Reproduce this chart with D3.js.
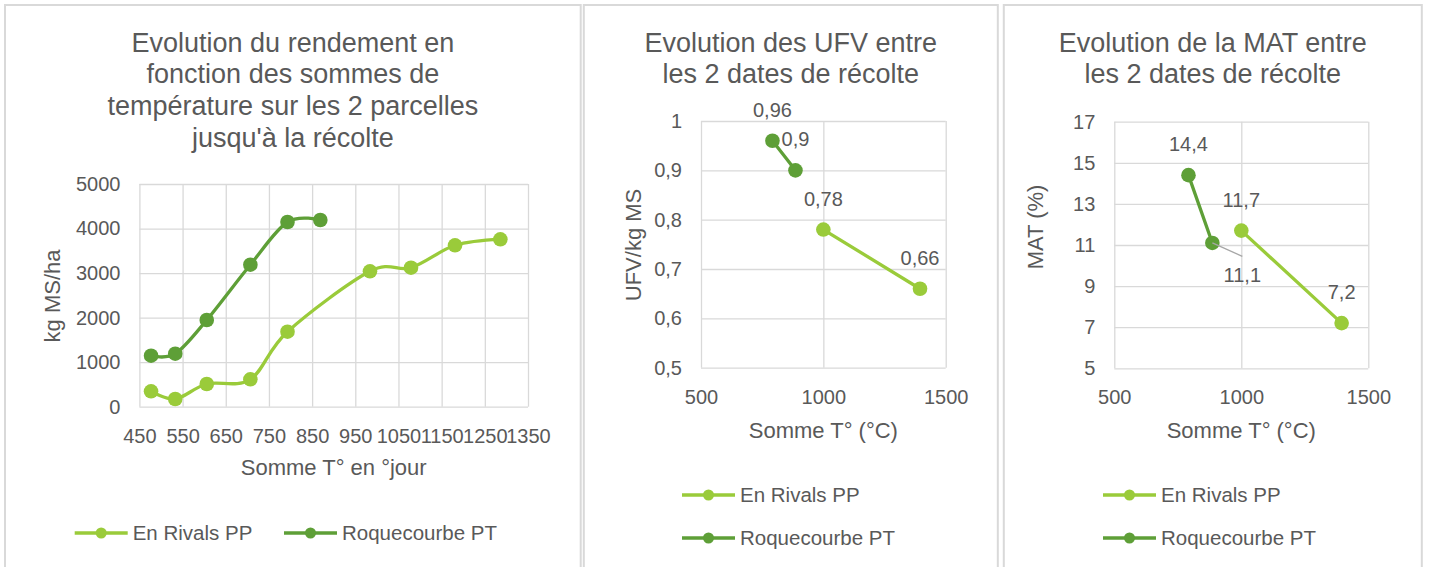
<!DOCTYPE html>
<html>
<head>
<meta charset="utf-8">
<title>Rendement, UFV et MAT</title>
<script src="https://d3js.org/d3.v7.min.js"></script>
<style>
  body { margin: 0; background: #fff; }
  svg { display: block; font-family: "Liberation Sans", Arial, sans-serif; }
  .grid line { stroke: #d9d9d9; stroke-width: 1.3; }
  .grid text { fill: #595959; font-size: 20px; }
  .lbl { fill: #595959; }
</style>
</head>
<body>
<svg width="1429" height="567"></svg>
<script>
// series
var seriesNames = ["En Rivals PP", "Roquecourbe PT"];
var colors = ["#9acb3a", "#5e9f37"];

// chart 1 : rendement vs somme de températures
var cumulT_rivals = [477, 533, 606, 707, 793, 984, 1079, 1181, 1286];
var rendement_rivals = [346, 173, 510, 615, 1684, 3040, 3121, 3624, 3758];
var cumulT_roque = [477, 533, 606, 707, 793, 869];
var rendement_roque = [1145, 1190, 1947, 3188, 4147, 4192];
var rendXTicks = [450, 550, 650, 750, 850, 950, 1050, 1150, 1250, 1350];
var rendYTicks = [0, 1000, 2000, 3000, 4000, 5000];

// charts 2 and 3 : the 2 harvest dates
var recolteT_rivals = [1000, 1395];
var recolteT_roque = [792, 886];
var ufv_rivals = [0.78, 0.66];
var ufv_roque = [0.96, 0.9];
var mat_rivals = [11.7, 7.2];
var mat_roque = [14.4, 11.1];
var tempTicks = [500, 1000, 1500];
var ufvTicks = [0.5, 0.6, 0.7, 0.8, 0.9, 1];
var matTicks = [5, 7, 9, 11, 13, 15, 17];

var fr = d3.formatLocale({decimal: ",", thousands: "", grouping: [3], currency: ["", " €"]});
var fmtDec = fr.format(".2~f");

var svg = d3.select("svg");

// panel frames
[[5, 580.7], [583.8, 997.8], [1003.8, 1421.8]].forEach(function(p) {
  svg.append("rect")
      .attr("x", p[0]).attr("y", 5)
      .attr("width", p[1] - p[0]).attr("height", 600)
      .attr("fill", "none")
      .attr("stroke", "#d9d9d9")
      .attr("stroke-width", 2);
});

function zip(xs, ys) {
  return xs.map(function(v, i) { return [v, ys[i]]; });
}

function drawChart(c) {
  var x = d3.scaleLinear().domain(c.xDomain).range([c.left, c.right]);
  var y = d3.scaleLinear().domain(c.yDomain).range([c.bottom, c.top]);
  var w = c.right - c.left, h = c.bottom - c.top;

  // title
  var t = svg.append("text").attr("class", "lbl")
      .attr("text-anchor", "middle")
      .style("font-size", "27px");
  c.title.forEach(function(line, i) {
    t.append("tspan").attr("x", c.titleX).attr("y", 51.7 + i * 31.7).text(line);
  });

  // axes + gridlines
  var gx = svg.append("g").attr("class", "grid")
      .attr("transform", "translate(0," + c.bottom + ")")
      .call(d3.axisBottom(x).tickValues(c.xTicks).tickSize(-h).tickPadding(22).tickFormat(d3.format("d")));
  gx.select(".domain").remove();
  var gy = svg.append("g").attr("class", "grid")
      .attr("transform", "translate(" + c.left + ",0)")
      .call(d3.axisLeft(y).tickValues(c.yTicks).tickSize(-w).tickPadding(19).tickFormat(c.yFmt));
  gy.select(".domain").remove();
  svg.selectAll(".grid text").style("font-family", null);

  // axis titles
  svg.append("text").attr("class", "lbl")
      .attr("x", (c.left + c.right) / 2).attr("y", c.xTitleY)
      .attr("text-anchor", "middle").style("font-size", "22px")
      .text(c.xTitle);
  svg.append("text").attr("class", "lbl")
      .attr("transform", "translate(" + c.yTitleX + "," + c.yTitleY + ") rotate(-90)")
      .attr("text-anchor", "middle").attr("dy", "0.35em").style("font-size", "22px")
      .text(c.yTitle);

  var line = d3.line()
      .x(function(d) { return x(d[0]); })
      .y(function(d) { return y(d[1]); })
      .curve(c.curve);

  c.series.forEach(function(s, si) {
    var g = svg.append("g");
    g.append("path")
        .attr("d", line(s.points))
        .attr("fill", "none")
        .attr("stroke", colors[si])
        .attr("stroke-width", 3.3)
        .attr("stroke-linecap", "round");
    g.selectAll("circle")
      .data(s.points)
      .enter().append("circle")
        .attr("cx", function(d) { return x(d[0]); })
        .attr("cy", function(d) { return y(d[1]); })
        .attr("r", 7.3)
        .attr("fill", colors[si]);
    if (s.labels) {
      s.points.forEach(function(d, i) {
        var px = x(d[0]), py = y(d[1]);
        var off = s.labelOffsets ? s.labelOffsets[i] : null;
        if (off) {
          // label moved away from its point, with a leader line
          svg.append("line")
              .attr("x1", px).attr("y1", py)
              .attr("x2", px + off[0]).attr("y2", py + off[1] - 26)
              .attr("stroke", "#a6a6a6").attr("stroke-width", 1.3);
          svg.append("text").attr("class", "lbl")
              .attr("x", px + off[0]).attr("y", py + off[1])
              .attr("text-anchor", "middle").style("font-size", "20px")
              .text(fmtDec(d[1]));
        } else {
          svg.append("text").attr("class", "lbl")
              .attr("x", px).attr("y", py - 24)
              .attr("text-anchor", "middle").style("font-size", "20px")
              .text(fmtDec(d[1]));
        }
      });
    }
  });

  // legend
  c.legend.forEach(function(pos, si) {
    var g = svg.append("g").attr("transform", "translate(" + pos[0] + "," + pos[1] + ")");
    g.append("line").attr("x1", 0).attr("x2", 53)
        .attr("stroke", colors[si]).attr("stroke-width", 3.3);
    g.append("circle").attr("cx", 26.5).attr("r", 5.5).attr("fill", colors[si]);
    g.append("text").attr("class", "lbl")
        .attr("x", 58).attr("dy", "0.35em").style("font-size", "20.5px")
        .text(seriesNames[si]);
  });
}

drawChart({
  left: 139.4, right: 528, top: 184, bottom: 406.7,
  xDomain: [450, 1350], yDomain: [0, 5000],
  xTicks: rendXTicks, yTicks: rendYTicks, yFmt: d3.format("d"),
  title: ["Evolution du rendement en", "fonction des sommes de", "température sur les 2 parcelles", "jusqu'à la récolte"],
  titleX: 292.9,
  xTitle: "Somme T° en °jour", xTitleY: 475,
  yTitle: "kg MS/ha", yTitleX: 52.4, yTitleY: 296,
  curve: d3.curveCardinal.tension(0),
  series: [
    {points: zip(cumulT_rivals, rendement_rivals)},
    {points: zip(cumulT_roque, rendement_roque)}
  ],
  legend: [[74.7, 533], [284, 533]]
});

drawChart({
  left: 701, right: 945.7, top: 121, bottom: 367.7,
  xDomain: [500, 1500], yDomain: [0.5, 1],
  xTicks: tempTicks, yTicks: ufvTicks, yFmt: fmtDec,
  title: ["Evolution des UFV entre", "les 2 dates de récolte"],
  titleX: 790.8,
  xTitle: "Somme T° (°C)", xTitleY: 438,
  yTitle: "UFV/kg MS", yTitleX: 633, yTitleY: 245,
  curve: d3.curveLinear,
  series: [
    {points: zip(recolteT_rivals, ufv_rivals), labels: true},
    {points: zip(recolteT_roque, ufv_roque), labels: true}
  ],
  legend: [[682, 495], [682, 538]]
});

drawChart({
  left: 1114.3, right: 1368.3, top: 121.7, bottom: 368.3,
  xDomain: [500, 1500], yDomain: [5, 17],
  xTicks: tempTicks, yTicks: matTicks, yFmt: fmtDec,
  title: ["Evolution de la MAT entre", "les 2 dates de récolte"],
  titleX: 1212.8,
  xTitle: "Somme T° (°C)", xTitleY: 438,
  yTitle: "MAT (%)", yTitleX: 1035, yTitleY: 227,
  curve: d3.curveLinear,
  series: [
    {points: zip(recolteT_rivals, mat_rivals), labels: true},
    {points: zip(recolteT_roque, mat_roque), labels: true, labelOffsets: [null, [30, 39.4]]}
  ],
  legend: [[1103, 495], [1103, 538]]
});
</script>
</body>
</html>
